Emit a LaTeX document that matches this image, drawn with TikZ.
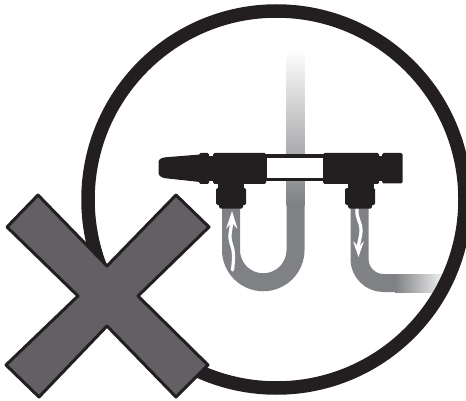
\documentclass[tikz,border=0pt]{standalone}
\definecolor{ink}{HTML}{231F20}
\definecolor{pipe}{HTML}{808184}
\definecolor{crossfill}{HTML}{626064}
\tikzset{
  ring/.style={draw=ink,line width=13.5pt},
  pipeline/.style={draw=pipe,line width=18pt},
  body/.style={fill=ink,draw=none,rounded corners=1.5pt},
  flowline/.style={draw=white,line width=3.2pt,line cap=round},
  flowhead/.style={fill=white,draw=none},
  crossmark/.style={fill=crossfill,draw=ink,line width=3pt,line join=round},
}
\begin{document}
\begin{tikzpicture}[x=1pt,y=-1pt]
\useasboundingbox (0,0) rectangle (466,401);
% pipes
\shade[top color=white,bottom color=pipe] (286.5,50) rectangle (304.5,205);
\shade[left color=pipe,right color=white!92!pipe] (395,274) rectangle (445,292);
\draw[pipeline] (231,200) -- (231,250) arc[start angle=180,end angle=0,radius=32.25] -- (295.5,204);
\draw[pipeline] (359.5,200) -- (359.5,259) arc[start angle=180,end angle=90,radius=24] -- (396,283);
% ring
\draw[ring] (276.5,199.5) circle (188.5);
% flow arrows
\draw[flowline] (232.5,270) .. controls (234,258) and (234,250) .. (231,243) .. controls (228,236) and (232,228) .. (232,218);
\path[flowhead] (232,211) -- (237.5,229) .. controls (234,225) and (233,224) .. (232,222) .. controls (231,224) and (229,225) .. (226,229) -- cycle;
\draw[flowline] (357,209) .. controls (356,218) and (361,222) .. (361,230) .. controls (361,238) and (358,243) .. (358,250);
\path[flowhead] (358.5,257) -- (353,241) .. controls (356,244) and (357.5,246) .. (358.5,248) .. controls (359.5,246) and (361,244) .. (364,241) -- cycle;
% device: left end
\fill[body] (158.5,160) -- (163,157.5) -- (200,154.5) -- (200,182) -- (163,178) -- (158.5,175) -- cycle;
\fill[body] (199,153) rectangle (209,184);
\fill[body] (213,153) rectangle (266,184);
\fill[ink] (205,156) rectangle (215,181);
% window frame
\fill[ink] (264,154.5) rectangle (324,181.5);
\fill[white] (266.7,157.7) rectangle (322.5,178);
% device: right end
\fill[body] (323,153) rectangle (379,184);
\fill[ink] (376,156) rectangle (385,181);
\fill[body] (382,153) rectangle (402.5,183.5);
% stems and nuts
\fill[ink] (218,180) rectangle (243.5,192);
\fill[body] (216,188) rectangle (246,205);
\fill[body] (219,195) rectangle (243,208.5);
\fill[ink] (348,180) rectangle (373.5,192);
\fill[body] (345,188) rectangle (375,205);
\fill[body] (348,195) rectangle (372,208.5);
% cross
\draw[crossmark] (38,195) -- (107,266) -- (176,195) -- (209,227) -- (138,296) -- (208,365) -- (176,397) -- (107,326) -- (39,397) -- (6,365) -- (78,296) -- (7,227) -- cycle;
\end{tikzpicture}
\end{document}
